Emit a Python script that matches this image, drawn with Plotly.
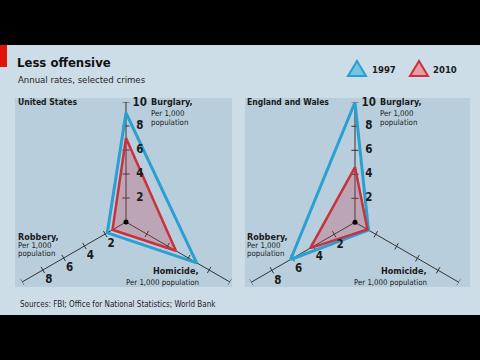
import math
import plotly.graph_objects as go

# ---------------- data ----------------
categories = ["Burglary", "Homicide", "Robbery"]
axis_angles = [0, 120, 240]          # clockwise from top
us_1997 = [9.1, 6.8, 1.8]
us_2010 = [7.0, 4.8, 1.3]
ew_1997 = [10.0, 1.3, 6.2]
ew_2010 = [4.6, 1.2, 4.3]
tick_values = [2, 4, 6, 8, 10]
burglary_tick_labels = ["2", "4", "6", "8", "10"]
robbery_tick_labels = ["2", "4", "6", "8"]
years = ["1997", "2010"]

W, H = 480, 360
RMAX = 10
BLUE = "#2a9fd0"
RED = "#c8323e"
AXIS = "#333333"
FONT = "DejaVu Sans Condensed, Roboto, sans-serif"


def offset_point(r, a, d, clamp=False):
    """point at radius r along axis a, shifted perpendicular by d (units, + = clockwise)"""
    rr = math.hypot(r, d)
    if clamp:
        rr = min(rr, RMAX)
    return rr, a + math.degrees(math.atan2(d, r))


fig = go.Figure()


def add_panel(polar_id, v97, v10):
    sub = "polar" if polar_id == 1 else f"polar{polar_id}"
    common = dict(subplot=sub, showlegend=False, hoverinfo="skip", cliponaxis=False)
    for a in axis_angles:
        fig.add_trace(go.Scatterpolar(r=[0, tick_values[-1]], theta=[a, a], mode="lines",
                                      line=dict(color=AXIS, width=1), **common))
    h = 0.3
    for a in axis_angles:
        rs, ts = [], []
        for t in tick_values:
            r1, t1 = offset_point(t, a, h)
            r2, t2 = offset_point(t, a, -h)
            rs += [r1, r2, None]
            ts += [t1, t2, None]
        fig.add_trace(go.Scatterpolar(r=rs, theta=ts, mode="lines",
                                      line=dict(color=AXIS, width=1), **common))
    for vals, col, fillc, w in [(v97, BLUE, "rgba(0,0,0,0)", 3),
                                (v10, RED, "rgba(200,60,80,0.28)", 2.5)]:
        fig.add_trace(go.Scatterpolar(r=vals + vals[:1], theta=axis_angles + axis_angles[:1],
                                      mode="lines", fill="toself", fillcolor=fillc,
                                      line=dict(color=col, width=w), **common))
    fig.add_trace(go.Scatterpolar(r=[0], theta=[0], mode="markers",
                                  marker=dict(color="black", size=5), **common))
    rs, ts = [], []
    for t in tick_values:
        r1, t1 = offset_point(t, axis_angles[0], 1.15, clamp=True)
        rs.append(r1); ts.append(t1)
    fig.add_trace(go.Scatterpolar(r=rs, theta=ts, mode="text", text=[f"<b>{s}</b>" for s in burglary_tick_labels],
                                  textfont=dict(family=FONT, size=11.5, color="#1a1a1a"), **common))
    rs, ts = [], []
    for t in tick_values[:len(robbery_tick_labels)]:
        r1, t1 = offset_point(t, axis_angles[2], -1.0, clamp=True)
        rs.append(r1); ts.append(t1)
    fig.add_trace(go.Scatterpolar(r=rs, theta=ts, mode="text", text=[f"<b>{s}</b>" for s in robbery_tick_labels],
                                  textfont=dict(family=FONT, size=11.5, color="#1a1a1a"), **common))


add_panel(1, us_1997, us_2010)
add_panel(2, ew_1997, ew_2010)


def px(x, y):
    return x / W, 1 - y / H


def dom(cx, cy, rad=120):
    return dict(x=[(cx - rad) / W, (cx + rad) / W], y=[(H - cy - rad) / H, (H - cy + rad) / H])


polar_common = dict(bgcolor="rgba(0,0,0,0)", radialaxis=dict(visible=False, range=[0, RMAX]),
                    angularaxis=dict(visible=False, rotation=90, direction="clockwise"))
fig.update_layout(polar=dict(domain=dom(126, 222), **polar_common),
                  polar2=dict(domain=dom(355, 222.3), **polar_common))


def rect(x0, y0, x1, y1, color):
    return dict(type="rect", xref="paper", yref="paper", x0=x0 / W, x1=x1 / W,
                y0=1 - y1 / H, y1=1 - y0 / H, fillcolor=color, line_width=0, layer="below")


def tri(cx, cy, w, h, fill, line):
    pts = [(cx - w / 2, cy + h / 2), (cx + w / 2, cy + h / 2), (cx, cy - h / 2)]
    path = "M " + " L ".join(f"{x / W:.5f},{1 - y / H:.5f}" for x, y in pts) + " Z"
    return dict(type="path", xref="paper", yref="paper", path=path, fillcolor=fill,
                line=dict(color=line, width=2), layer="above")


shapes = [
    rect(0, 45, 480, 315, "#cddde8"),
    rect(0, 45, 7, 67, "#e3120b"),
    rect(15, 98, 232, 287, "#b8cedc"),
    rect(245, 98, 470, 287, "#b8cedc"),
    tri(357, 68.5, 18, 15, "#74c3e3", BLUE),
    tri(419, 68.5, 18, 15, "#e99ba3", RED),
]

ann = []


def A(text, x, y, size, anchor="left", bold=False, color="#1a1a1a"):
    xx, yy = px(x, y)
    ann.append(dict(text=f"<b>{text}</b>" if bold else text, x=xx, y=yy, xref="paper", yref="paper",
                    xanchor=anchor, yanchor="middle", showarrow=False,
                    font=dict(family=FONT, size=size, color=color)))


A("Less offensive", 15, 62, 13, bold=True, color="#111111")
A("Annual rates, selected crimes", 16, 79, 9.5, color="#222222")
A("Sources: FBI; Office for National Statistics; World Bank", 18, 304, 8, color="#222222")
A(years[0], 370, 69, 9.5, bold=True)
A(years[1], 431, 69, 9.5, bold=True)
A("United States", 16, 102, 8.5, bold=True)
A("England and Wales", 245, 102, 8.5, bold=True)
for bx, hx, rx in [(149, 201, 16), (378, 429, 245)]:
    A("Burglary,", bx, 102, 9, bold=True)
    A("Per 1,000", bx, 113, 7.8)
    A("population", bx, 122, 7.8)
    A("Homicide,", hx, 271, 9, anchor="right", bold=True)
    A("Per 1,000 population", hx, 282, 7.8, anchor="right")
    A("Robbery,", rx, 236.5, 9, bold=True)
    A("Per 1,000", rx, 245, 7.8)
    A("population", rx, 253.5, 7.8)

fig.update_layout(
    width=W, height=H, margin=dict(l=0, r=0, t=0, b=0),
    paper_bgcolor="black", plot_bgcolor="rgba(0,0,0,0)",
    shapes=shapes, annotations=ann, showlegend=False,
)

fig.write_html("out.html", config={"displayModeBar": False},
               post_script="document.body.style.margin='0';document.body.style.overflow='hidden';")
